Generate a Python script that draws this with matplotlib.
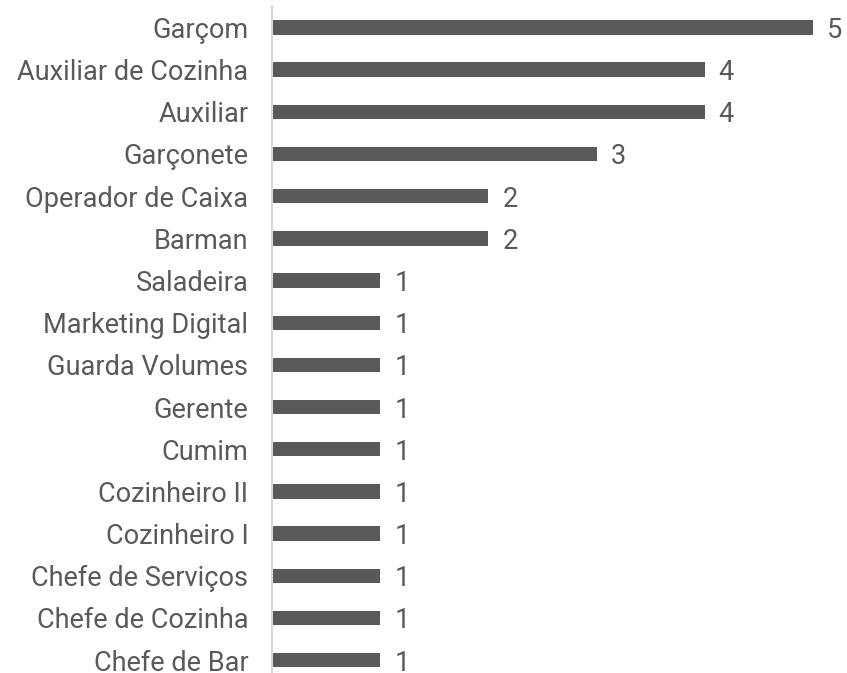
import matplotlib
matplotlib.use("Agg")
import matplotlib.pyplot as plt

categories = ["Garçom", "Auxiliar de Cozinha", "Auxiliar", "Garçonete", "Operador de Caixa",
              "Barman", "Saladeira", "Marketing Digital", "Guarda Volumes", "Gerente", "Cumim",
              "Cozinheiro II", "Cozinheiro I", "Chefe de Serviços", "Chefe de Cozinha", "Chefe de Bar"]
values = [5, 4, 4, 3, 2, 2, 1, 1, 1, 1, 1, 1, 1, 1, 1, 1]

plt.rcParams['font.family'] = ['Roboto', 'DejaVu Sans']
W, H = 847, 673
fig = plt.figure(figsize=(W/100, H/100), dpi=100)
left_px, top_px = 272, 6.4
band = 42.17
ax = fig.add_axes([left_px/W, 0, 1 - left_px/W, 1 - top_px/H])
n = len(categories)
ypos = list(range(n))[::-1]
color = "#595959"
ax.barh(ypos, values, height=0.34, color=color)
unit = 108.2
ax.set_xlim(0, (W - left_px)/unit)
axes_h_px = H - top_px
ax.set_ylim(n - 0.5 - axes_h_px/band, n - 0.5)
ax.set_yticks(ypos)
ax.set_yticklabels(categories, fontsize=19.5, color=color)
ax.tick_params(axis='y', length=0, pad=17)
ax.set_xticks([])
for s in ["top", "right", "bottom"]:
    ax.spines[s].set_visible(False)
ax.spines["left"].set_color("#d9d9d9")
ax.spines["left"].set_linewidth(1.5)
for y, v in zip(ypos, values):
    ax.text(v + 14/unit, y, str(v), va="center_baseline", ha="left", fontsize=19.5, color=color)
fig.savefig("out.png", dpi=100)
